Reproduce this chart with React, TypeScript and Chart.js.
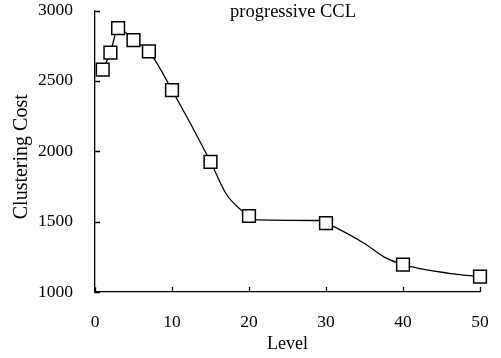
import React, { useEffect, useRef } from 'react';
import { Chart, registerables } from 'chart.js';

Chart.register(...registerables);

// Marker points (square symbols)
const markerLevels = [1, 2, 3, 5, 7, 10, 15, 20, 30, 40, 50];
const markerCosts = [2580, 2700, 2875, 2790, 2710, 2435, 1925, 1540, 1490, 1195, 1110];

// Points
const curveLevels = [1, 2, 3, 5, 7, 10, 15, 17, 19, 20, 21, 29, 30, 35, 37.5, 40, 46, 50];
const curveCosts = [2580, 2700, 2875, 2790, 2710, 2435, 1925, 1700, 1580, 1540, 1512, 1508, 1490, 1345, 1250, 1195, 1133, 1110];

const xTicks = [0, 10, 20, 30, 40, 50];
const yTicks = [1000, 1500, 2000, 2500, 3000];

const chartTitle = 'progressive CCL';
const xTitle = 'Level';
const yTitle = 'Clustering Cost';

const SERIF = '"Liberation Serif", "Times New Roman", serif';

const decorPlugin = {
  id: 'decor',
  afterDraw(chart: any) {
    const { ctx, chartArea, scales } = chart;
    const xs = scales.x;
    const ys = scales.y;
    ctx.save();
    ctx.strokeStyle = '#000';
    ctx.lineWidth = 1.3;
    ctx.beginPath();
    xTicks.forEach((v) => {
      const px = Math.round(xs.getPixelForValue(v)) + 0.5;
      ctx.moveTo(px, chartArea.bottom);
      ctx.lineTo(px, chartArea.bottom - 5);
    });
    yTicks.forEach((v) => {
      const py = Math.round(ys.getPixelForValue(v)) + 0.5;
      ctx.moveTo(chartArea.left, py);
      ctx.lineTo(chartArea.left + 5, py);
    });
    ctx.stroke();

    ctx.fillStyle = '#000';
    ctx.textAlign = 'center';
    ctx.textBaseline = 'middle';
    ctx.font = `18.5px ${SERIF}`;
    ctx.fillText(chartTitle, (chartArea.left + chartArea.right) / 2 + 5.5, chartArea.top + 1.5);

    ctx.translate(22, (chartArea.top + chartArea.bottom) / 2 + 5.5);
    ctx.rotate(-Math.PI / 2);
    ctx.font = `20px ${SERIF}`;
    ctx.fillText(yTitle, 0, 0);
    ctx.restore();
  },
};

export default function App() {
  const canvasRef = useRef<HTMLCanvasElement | null>(null);

  useEffect(() => {
    document.body.style.margin = '0';
    const canvas = canvasRef.current;
    if (!canvas) return;

    const chart = new Chart(canvas, {
      type: 'line',
      data: {
        datasets: [
          {
            data: curveLevels.map((x, i) => ({ x, y: curveCosts[i] })),
            borderColor: '#000',
            borderWidth: 1.3,
            pointRadius: 0,
            cubicInterpolationMode: 'monotone',
            fill: false,
            order: 2,
          },
          {
            data: markerLevels.map((x, i) => ({ x, y: markerCosts[i] })),
            showLine: false,
            pointStyle: 'rect',
            pointRadius: 9,
            pointBackgroundColor: '#fff',
            pointBorderColor: '#000',
            pointBorderWidth: 1.5,
            clip: false,
            order: 1,
          },
        ],
      },
      options: {
        responsive: false,
        animation: false,
        devicePixelRatio: 1,
        layout: { padding: { top: 10, right: 21, bottom: 0, left: 0 } },
        plugins: {
          legend: { display: false },
          tooltip: { enabled: false },
        },
        scales: {
          x: {
            type: 'linear',
            min: 0,
            max: 50,
            afterBuildTicks: (s: any) => {
              s.ticks = xTicks.map((v) => ({ value: v }));
            },
            afterFit: (s: any) => {
              s.height = 66;
              s.paddingLeft = 0;
              s.paddingRight = 0;
            },
            grid: { display: false },
            border: { display: true, color: '#000', width: 1.3 },
            ticks: {
              color: '#000',
              font: { family: SERIF, size: 17.5 },
              padding: 12,
              maxRotation: 0,
              callback: (v: any) => String(v),
            },
            title: {
              display: true,
              text: xTitle,
              color: '#000',
              font: { family: SERIF, size: 18 },
              padding: { top: 0, bottom: 3 },
            },
          },
          y: {
            type: 'linear',
            min: 1000,
            max: 3000,
            afterBuildTicks: (s: any) => {
              s.ticks = yTicks.map((v) => ({ value: v }));
            },
            afterFit: (s: any) => {
              s.width = 95;
              s.paddingTop = 0;
              s.paddingBottom = 0;
            },
            grid: { display: false },
            border: { display: true, color: '#000', width: 1.3 },
            ticks: {
              color: '#000',
              font: { family: SERIF, size: 17.5, lineHeight: 1 },
              padding: 14,
              callback: (v: any) => String(v),
            },
          },
        },
      },
      plugins: [decorPlugin],
    } as any);

    return () => chart.destroy();
  }, []);

  return <canvas ref={canvasRef} width={501} height={358} style={{ display: 'block', width: 501, height: 358 }} />;
}
